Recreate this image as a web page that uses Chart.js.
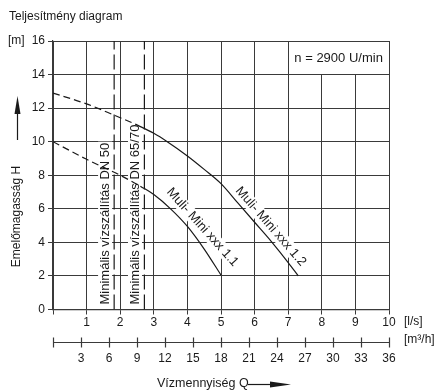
<!DOCTYPE html>
<html><head><meta charset="utf-8">
<script src="https://cdn.jsdelivr.net/npm/chart.js@4.4.0/dist/chart.umd.min.js"></script>
<style>html,body{margin:0;padding:0;background:#fff;overflow:hidden}</style>
</head><body>
<canvas id="c" width="437" height="390"></canvas>
<script>
// ---- data ----
const curve12DashedX = [0, 1, 1.8, 2.5];
const curve12DashedY = [12.9, 12.25, 11.6, 11.0];
const curve12X = [2.5, 3, 3.4, 4, 4.5, 5, 5.5, 6, 6.5, 7, 7.3];
const curve12Y = [11.0, 10.5, 10.0, 9.15, 8.35, 7.5, 6.35, 5.2, 4.05, 2.8, 2.0];
const curve11DashedX = [0, 1, 2, 2.6];
const curve11DashedY = [10.0, 8.95, 8.0, 7.35];
const curve11X = [2.6, 3, 3.5, 4, 4.5, 5];
const curve11Y = [7.35, 6.85, 6.0, 4.95, 3.6, 2.05];
const minFlowX = [1.82, 2.72];
const minFlowLabels = ['Minimális vízszállítás DN 50', 'Minimális vízszállítás DN 65/70'];
const curveLabels = ['Muli- Mini xxx 1.1', 'Muli- Mini xxx 1.2'];
const hRange = [0, 16];
const qLsRange = [0, 10];
const qM3hRange = [0, 36];
const hStep = 2, qLsStep = 1, qM3hStep = 3;
const speedText = 'n = 2900 U/min';
const titleText = 'Teljesítmény diagram';
const yTitle = 'Emelőmagasság H';
const xTitle = 'Vízmennyiség Q';
const yUnit = '[m]', xUnit = '[l/s]', x2Unit = '[m³/h]';

const pts = (xs, ys) => xs.map((x, i) => ({x, y: ys[i]}));
const INK = '#1a1a1a';
const GRID = '#3a3a3a';
const FONT = '"Liberation Sans", Arial, sans-serif';

const lineDs = (data, dash) => ({
  data, showLine: true, pointRadius: 0, borderColor: INK, borderWidth: 1.2,
  borderDash: dash, cubicInterpolationMode: 'monotone', fill: false
});

const datasets = [
  lineDs(pts(curve12DashedX, curve12DashedY), [7, 4]),
  lineDs(pts(curve12X, curve12Y), []),
  lineDs(pts(curve11DashedX, curve11DashedY), [7, 4]),
  lineDs(pts(curve11X, curve11Y), []),
  ...minFlowX.map(x => ({
    data: [{x, y: hRange[0]}, {x, y: hRange[1]}], showLine: true, pointRadius: 0,
    borderColor: INK, borderWidth: 1.2, borderDash: [15, 5], tension: 0
  }))
];

function rotText(ctx, text, x, y, ang, align) {
  ctx.save();
  ctx.translate(x, y);
  ctx.rotate(ang);
  ctx.textAlign = align || 'center';
  ctx.textBaseline = 'middle';
  const w = ctx.measureText(text).width;
  const x0 = align === 'left' ? 0 : -w / 2;
  ctx.fillStyle = '#fff';
  ctx.fillRect(x0 - 1, -7, w + 2, 14);
  ctx.fillStyle = INK;
  ctx.fillText(text, 0, 0);
  ctx.restore();
}

const decor = {
  id: 'decor',
  beforeDatasetsDraw(chart) {
    const ctx = chart.ctx, xs = chart.scales.x, ys = chart.scales.y;
    // speed box
    const bx0 = Math.round(xs.getPixelForValue(7)) + 1, bx1 = Math.round(xs.getPixelForValue(10)) - 1;
    const by0 = Math.round(ys.getPixelForValue(16)) + 1, by1 = Math.round(ys.getPixelForValue(14)) - 1;
    ctx.save();
    ctx.fillStyle = '#fff';
    ctx.fillRect(bx0, by0, bx1 - bx0, by1 - by0);
    ctx.fillStyle = INK;
    ctx.font = '13px ' + FONT;
    ctx.textAlign = 'center'; ctx.textBaseline = 'middle';
    ctx.fillText(speedText, xs.getPixelForValue(8.5), ys.getPixelForValue(15) + 1);
    // min-flow texts
    const txPos = [1.55, 2.44];
    minFlowLabels.forEach((t, i) => {
      rotText(ctx, t, xs.getPixelForValue(txPos[i]), ys.getPixelForValue(0) - 5, -Math.PI / 2, 'left');
    });
    // curve labels
    rotText(ctx, curveLabels[0], xs.getPixelForValue(4.45), ys.getPixelForValue(4.9), 48 * Math.PI / 180);
    rotText(ctx, curveLabels[1], xs.getPixelForValue(6.48), ys.getPixelForValue(4.95), 49 * Math.PI / 180);
    ctx.restore();
  },
  afterDraw(chart) {
    const ctx = chart.ctx, x2 = chart.scales.x2, ys = chart.scales.y;
    ctx.save();
    // m3/h axis
    const ay = 342.5;
    ctx.strokeStyle = GRID; ctx.lineWidth = 1.2;
    ctx.beginPath();
    ctx.moveTo(x2.getPixelForValue(qM3hRange[0]), ay);
    ctx.lineTo(x2.getPixelForValue(qM3hRange[1]), ay);
    for (let v = qM3hRange[0]; v <= qM3hRange[1]; v += qM3hStep) {
      const px = Math.round(x2.getPixelForValue(v)) + 0.5;
      ctx.moveTo(px, ay - 5); ctx.lineTo(px, ay + 5);
    }
    ctx.stroke();
    ctx.fillStyle = INK;
    ctx.font = '12px ' + FONT;
    ctx.textBaseline = 'middle'; ctx.textAlign = 'left';
    ctx.fillText(titleText, 9, 17);
    ctx.fillText(yUnit, 8, ys.getPixelForValue(16));
    ctx.fillText(xUnit, 404, 322);
    ctx.fillText(x2Unit, 404, 340);
    ctx.font = '12.5px ' + FONT;
    ctx.fillText(xTitle, 157, 384);
    const tw = ctx.measureText(xTitle).width;
    // x arrow
    ctx.strokeStyle = INK; ctx.lineWidth = 1.2;
    ctx.beginPath(); ctx.moveTo(157 + tw - 1, 384.5); ctx.lineTo(275, 384.5); ctx.stroke();
    ctx.beginPath(); ctx.moveTo(291, 384.5); ctx.lineTo(270, 381.5); ctx.lineTo(270, 387.5); ctx.closePath(); ctx.fill();
    // y title
    ctx.save();
    ctx.translate(17, 216.5);
    ctx.rotate(-Math.PI / 2);
    ctx.font = '12px ' + FONT;
    ctx.textAlign = 'center';
    ctx.fillText(yTitle, 0, 0);
    ctx.restore();
    // y arrow
    ctx.beginPath(); ctx.moveTo(17.5, 140); ctx.lineTo(17.5, 108); ctx.stroke();
    ctx.beginPath(); ctx.moveTo(17.5, 96); ctx.lineTo(14.5, 114); ctx.lineTo(20.5, 114); ctx.closePath(); ctx.fill();
    ctx.restore();
  }
};

new Chart(document.getElementById('c'), {
  type: 'scatter',
  data: { datasets },
  options: {
    responsive: false, animation: false, devicePixelRatio: 1,
    layout: { padding: { top: 41, right: 48, left: 0, bottom: 0 } },
    plugins: { legend: { display: false }, tooltip: { enabled: false } },
    scales: {
      x: {
        type: 'linear', position: 'bottom', min: qLsRange[0], max: qLsRange[1],
        ticks: { stepSize: qLsStep, color: INK, font: { size: 12, family: FONT }, padding: 1,
                 maxRotation: 0, callback: v => v === 0 ? '' : v },
        grid: { color: GRID, lineWidth: 1, tickLength: 5, drawTicks: true },
        border: { color: GRID, width: 1.2 },
        afterFit: s => { s.height = 22; }
      },
      x2: {
        type: 'linear', position: 'bottom', min: qM3hRange[0], max: qM3hRange[1],
        ticks: { stepSize: qM3hStep, color: INK, font: { size: 12, family: FONT }, padding: 12,
                 maxRotation: 0, autoSkip: false, callback: v => v === 0 ? '' : v },
        grid: { display: false }, border: { display: false },
        afterFit: s => { s.height = 58.5; }
      },
      y: {
        type: 'linear', min: hRange[0], max: hRange[1],
        ticks: { stepSize: hStep, color: INK, font: { size: 12, family: FONT }, padding: 3 },
        grid: { color: GRID, lineWidth: 1, tickLength: 5, drawTicks: true },
        border: { color: GRID, width: 1.2 },
        afterFit: s => { s.width = 53; }
      }
    }
  },
  plugins: [decor]
});
</script>
</body></html>
